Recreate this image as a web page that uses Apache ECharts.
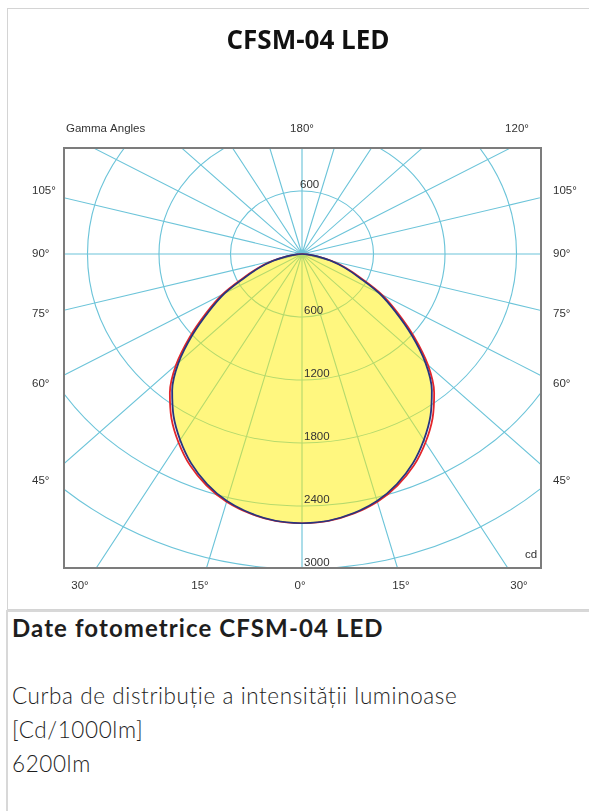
<!DOCTYPE html>
<html>
<head>
<meta charset="utf-8">
<title>CFSM-04 LED</title>
<script src="https://cdn.jsdelivr.net/npm/echarts@6/dist/echarts.min.js"></script>
<style>
  body { margin: 0; background: #fff; width: 589px; height: 811px; overflow: hidden; position: relative; }
  #panel { position: absolute; left: 7px; top: 8px; width: 640px; height: 602px; border: 1px solid #d4d4d4; border-right: none; box-sizing: border-box; }
  #clip { position: absolute; left: 63px; top: 147px; width: 479px; height: 422px; border: 2px solid #7c7c7c; box-sizing: border-box; overflow: hidden; }
  /* the scanned diagram is stretched sideways, so the polar plot is too */
  #polar { position: absolute; left: -163px; top: -295px; width: 800px; height: 800px; transform: scaleX(1.135); transform-origin: 400px 400px; }
  #labels { position: absolute; left: 0; top: 0; width: 589px; height: 608px; pointer-events: none; }
  #info { position: absolute; left: 6px; top: 610px; width: 640px; height: 220px; border-left: 2px solid #d8d8d8; border-top: 2px solid #d8d8d8; color: #1e1e1e; font-family: Lato, "Open Sans", sans-serif; }
  #info h3 { margin: 0; position: absolute; left: 4px; top: 2px; font-size: 24px; font-weight: 700; line-height: 28px; letter-spacing: 1.1px; white-space: nowrap; }
  #info .txt { position: absolute; left: 4px; top: 67px; font-size: 22.5px; font-weight: 300; line-height: 34px; letter-spacing: 0.6px; white-space: nowrap; }
</style>
</head>
<body>
<div id="panel"></div>
<div id="clip"><div id="polar"></div></div>
<div id="labels"></div>
<div id="info">
  <h3>Date fotometrice CFSM-04 LED</h3>
  <div class="txt">Curba de distribuție a intensității luminoase<br>[Cd/1000lm]<br>6200lm</div>
</div>
<script>
// gamma angles (deg) and luminous intensity, cd/1000lm
var gammaAngles = [0, 5, 10, 15, 20, 25, 30, 35, 40, 45, 50, 55, 60, 65, 70, 75, 80, 85, 90];
var intensityBlue = [2565, 2550, 2505, 2435, 2330, 2200, 2045, 1880, 1695, 1465, 1200, 955, 750, 530, 380, 250, 130, 45, 0];
var intensityRed = [2565, 2552, 2510, 2445, 2345, 2222, 2072, 1910, 1725, 1495, 1230, 985, 775, 552, 395, 260, 136, 48, 0];

var titleText = 'CFSM-04 LED';
var topLabels = ['Gamma Angles', '180°', '120°'];
var sideLabels = ['105°', '90°', '75°', '60°', '45°'];
var bottomLabels = ['30°', '15°', '0°', '15°', '30°'];
var unitLabel = 'cd';

var gridColor = '#6cc4d9';
var labelFont = '"Liberation Sans", Arial, sans-serif';

// right half: gamma as is, left half: mirrored (angle axis runs ccw from the bottom)
function half(vals, left) {
    return gammaAngles.map(function (g, i) {
        return [vals[i], left ? 360 - g : g];
    });
}

function curve(name, vals, left, color, fill) {
    return {
        name: name,
        type: 'line',
        coordinateSystem: 'polar',
        data: half(vals, left),
        showSymbol: false,
        silent: true,
        smooth: 0.35,
        lineStyle: { color: color, width: fill ? 0 : 1.6 },
        areaStyle: fill ? { color: '#fff000', opacity: 0.5 } : undefined,
        z: fill ? 1 : 3
    };
}

var chart = echarts.init(document.getElementById('polar'), null, { renderer: 'svg' });
chart.setOption({
    animation: false,
    polar: { center: ['50%', '50%'], radius: 441 },
    angleAxis: {
        startAngle: 270,
        clockwise: false,
        min: 0,
        max: 360,
        interval: 15,
        axisLine: { show: false },
        axisTick: { show: false },
        axisLabel: { show: false },
        splitLine: { lineStyle: { color: gridColor, width: 1 } }
    },
    radiusAxis: {
        min: 0,
        max: 4200,
        interval: 600,
        axisLine: { show: false },
        axisTick: { show: false },
        axisLabel: { show: false },
        splitLine: { lineStyle: { color: gridColor, width: 1 } }
    },
    series: [
        curve('fillL', intensityBlue, true, '#2b3a8c', true),
        curve('fillR', intensityBlue, false, '#2b3a8c', true),
        curve('C0-C180 L', intensityRed, true, '#e3262b'),
        curve('C0-C180 R', intensityRed, false, '#e3262b'),
        curve('C90-C270 L', intensityBlue, true, '#27357f'),
        curve('C90-C270 R', intensityBlue, false, '#27357f')
    ]
});

// labels round the frame
var topX = [66, 302, 517];
var sideY = [191, 254, 314, 384, 481];
var bottomX = [80, 200, 300, 401, 519];

function txt(s, x, y, align) {
    return {
        type: 'text',
        x: x,
        y: y,
        style: { text: s, fill: '#333', font: '11.5px ' + labelFont, align: align, verticalAlign: 'middle' }
    };
}

var graphics = [];
topLabels.forEach(function (s, i) {
    graphics.push(txt(s, topX[i], 129, i === 0 ? 'left' : 'center'));
});
sideLabels.forEach(function (s, i) {
    graphics.push(txt(s, 32, sideY[i], 'left'));
    graphics.push(txt(s, 553, sideY[i], 'left'));
});
bottomLabels.forEach(function (s, i) {
    graphics.push(txt(s, bottomX[i], 586, 'center'));
});
graphics.push(txt(unitLabel, 531, 555, 'center'));

var radLabel = {
    showMinLabel: false,
    color: '#333',
    fontSize: 11.5,
    fontFamily: labelFont,
    margin: 2,
    align: 'left',
    verticalAlign: 'bottom',
    formatter: function (v) { return String(v); }
};

var frame = echarts.init(document.getElementById('labels'));
frame.setOption({
    animation: false,
    title: {
        text: titleText,
        left: 303,
        top: 24,
        textAlign: 'center',
        textStyle: { fontFamily: '"Open Sans", sans-serif', fontWeight: 'bold', fontSize: 26, color: '#111' }
    },
    polar: [
        { center: [302, 254], radius: 315 },
        { center: [302, 254], radius: 63 }
    ],
    angleAxis: [
        { polarIndex: 0, startAngle: 270, min: 0, max: 360, show: false },
        { polarIndex: 1, startAngle: 90, min: 0, max: 360, show: false }
    ],
    radiusAxis: [
        { polarIndex: 0, min: 0, max: 3000, interval: 600, axisLine: { show: false }, axisTick: { show: false }, splitLine: { show: false }, axisLabel: radLabel },
        { polarIndex: 1, min: 0, max: 600, interval: 600, axisLine: { show: false }, axisTick: { show: false }, splitLine: { show: false }, axisLabel: radLabel }
    ],
    graphic: graphics
});
</script>
</body>
</html>
